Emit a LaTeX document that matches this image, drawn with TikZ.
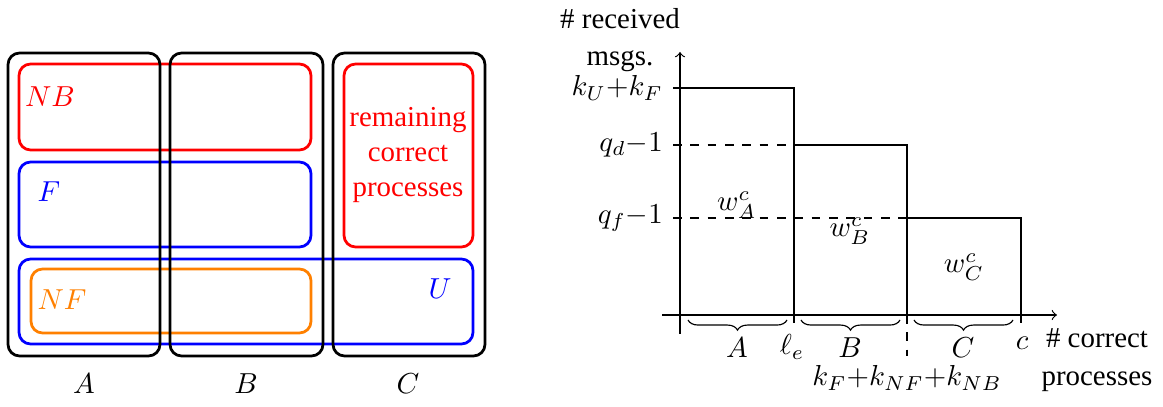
\documentclass[tikz,border=0pt]{standalone}
\usepackage[no-math]{fontspec}
\setmainfont{Liberation Serif}
\usetikzlibrary{decorations.pathreplacing}
\begin{document}
\begin{tikzpicture}[x=0.346pt,y=-0.346pt,
  setbox/.style={draw=black,line width=0.95pt,rounded corners=4pt},
  redbox/.style={draw=red,line width=0.95pt,rounded corners=4pt},
  bluebox/.style={draw=blue,line width=0.95pt,rounded corners=4pt},
  orangebox/.style={draw=orange,line width=0.95pt,rounded corners=4pt},
  stepline/.style={line width=0.4pt},
  guide/.style={dashed,line width=0.4pt},
  bracedec/.style={decorate,decoration={brace,mirror,amplitude=3.5pt}},
  axis/.style={->,line width=0.4pt}]
\useasboundingbox (0,0) rectangle (1163,407);
% ---------- left: sets ----------
\draw[redbox] (19,64) rectangle (311,150);
\draw[bluebox] (19,162) rectangle (311,247);
\draw[redbox] (344,64) rectangle (473,247);
\draw[bluebox] (19,259) rectangle (473,344);
\draw[orangebox] (31,269) rectangle (311,333);
\draw[setbox] (8,53) rectangle (160,356);
\draw[setbox] (170,53) rectangle (323,356);
\draw[setbox] (333,53) rectangle (485,356);
\node[text=red] (nb) at (50,97) {$NB$};
\node[text=blue] (f) at (49,192) {$F$};
\node[text=orange] (nf) at (62,300) {$NF$};
\node[text=blue] (u) at (440,289) {$U$};
\node[text=red,align=center] (rem) at (408,155) {remaining\\correct\\processes};
\node (la) at (84,384) {$A$};
\node (lb) at (246,384) {$B$};
\node (lc) at (408,384) {$C$};
% ---------- right: chart ----------
\coordinate (xs) at (662,315);
\coordinate (xe) at (1057,315);
\coordinate (ys) at (680,334);
\coordinate (ye) at (680,52);
\draw[axis] (xs) -- (xe);
\draw[axis] (ys) -- (ye);
\node[align=center] (ylab) at (620,40) {\# received\\[1pt]msgs.};
\node[align=center] (xlab) at (1097,360) {\# correct\\[1pt]processes};
\node[anchor=east] (t1) at (673,88) {$k_U{+}k_F$};
\node[anchor=east] (t2) at (673,145) {$q_d{-}1$};
\node[anchor=east] (t3) at (673,218) {$q_f{-}1$};
\draw[stepline] (t1.east) -- (794,88) -- (794,323);
\draw[guide] (t2.east) -- (794,145);
\draw[stepline] (794,145) -- (907,145) -- (907,315);
\draw[guide] (t3.east) -- (907,218);
\draw[stepline] (907,218) -- (1021,218) -- (1021,323);
\node (sum) at (907,378) {$k_F{+}k_{NF}{+}k_{NB}$};
\draw[guide] (907,315) -- (sum.north);
\node (wa) at (737,205) {$w_A^c$};
\node (wb) at (850,231) {$w_B^c$};
\node (wc) at (964,267) {$w_C^c$};
\draw[bracedec] (688,320) -- (787,320);
\draw[bracedec] (801,320) -- (900,320);
\draw[bracedec] (914,320) -- (1013,320);
\node (ba) at (737,348) {$A$};
\node (bb) at (850,348) {$B$};
\node (bc) at (963,348) {$C$};
\node (le) at (792,347) {$\ell_e$};
\node (cc) at (1022,343) {$c$};
\end{tikzpicture}
\end{document}
